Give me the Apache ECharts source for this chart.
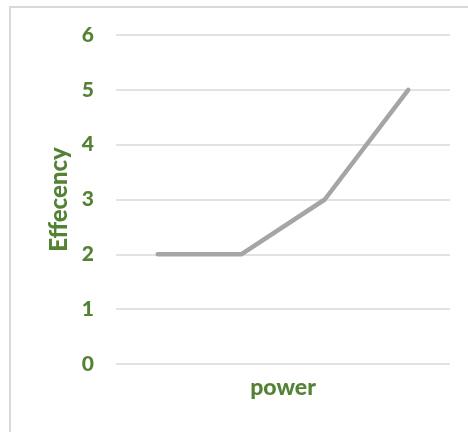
<!DOCTYPE html>
<html>
<head>
<meta charset="utf-8">
<script src="https://cdn.jsdelivr.net/npm/echarts@6/dist/echarts.min.js"></script>
<style>html,body{margin:0;padding:0;background:#fff}#c{width:468px;height:432px}</style>
</head>
<body>
<div id="c"></div>
<script>
const categories = ["1", "2", "3", "4"];
const efficiency = [2, 2, 3, 5];
const yTicks = { min: 0, max: 6, interval: 1 };
const xName = "power";
const yName = "Effecency";

const green = "#548235";
const chart = echarts.init(document.getElementById('c'));
chart.setOption({
  animation: false,
  backgroundColor: '#fff',
  graphic: [{
    type: 'rect', shape: { x: 10, y: 7, width: 480, height: 450 },
    style: { fill: 'none', stroke: '#d9d9d9', lineWidth: 2 }, silent: true
  }],
  grid: { left: 116, right: 18, top: 35, bottom: 68 },
  xAxis: {
    type: 'category', data: categories, boundaryGap: true,
    name: xName, nameLocation: 'middle', nameGap: 12,
    nameTextStyle: { color: green, fontWeight: 900, fontSize: 23, fontFamily: 'Lato' },
    axisLine: { show: false }, axisTick: { show: false }, axisLabel: { show: false }
  },
  yAxis: {
    type: 'value', min: yTicks.min, max: yTicks.max, interval: yTicks.interval,
    name: yName, nameLocation: 'middle', nameGap: 44, nameRotate: 90,
    nameTextStyle: { color: green, fontWeight: 900, fontSize: 24, fontFamily: 'Lato' },
    axisLine: { show: false }, axisTick: { show: false },
    axisLabel: { color: green, fontWeight: 900, fontSize: 21, fontFamily: 'Lato', margin: 22 },
    splitLine: { lineStyle: { color: '#d9d9d9', width: 1.5 } }
  },
  series: [{
    type: 'line', data: efficiency, showSymbol: false, symbol: 'none',
    lineStyle: { color: '#a5a5a5', width: 4.5, cap: 'round', join: 'round' }
  }]
});
</script>
</body>
</html>
